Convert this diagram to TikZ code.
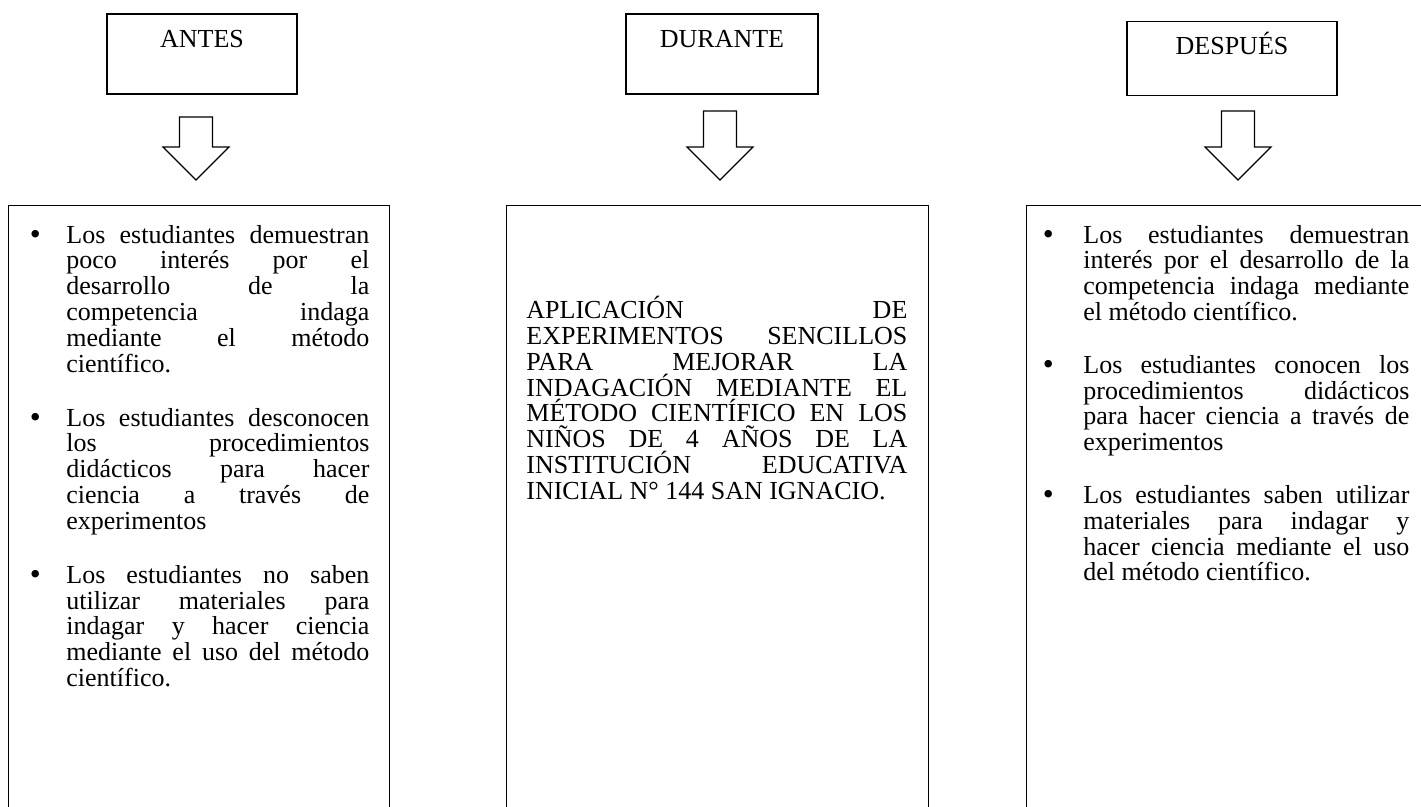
\documentclass[tikz,border=0pt]{standalone}
\usepackage{fontspec}
\setmainfont{Liberation Serif}
\usetikzlibrary{positioning}

\hyphenpenalty=10000
\tolerance=9999
\hbadness=10000

% larger bullet, as in the original
\newcommand{\punto}{\raisebox{-0.65pt}{\fontsize{15.6pt}{15.6pt}\selectfont\textbullet}}

% bullet list: left margin, label sep, item sep
\newenvironment{vinetas}[3]{%
  \begin{list}{\punto}{%
    \setlength{\leftmargin}{#1}%
    \setlength{\labelsep}{#2}%
    \setlength{\labelwidth}{\dimexpr#1-#2\relax}%
    \setlength{\topsep}{0pt}%
    \setlength{\partopsep}{0pt}%
    \setlength{\parsep}{0pt}%
    \setlength{\itemsep}{#3}}}%
  {\end{list}}

\tikzset{
  every node/.style={font=\fontsize{13pt}{12.9pt}\selectfont},
  titulo/.style={draw,line width=0.6pt,inner sep=0pt,anchor=base,
    text height=17pt,text depth=23pt},
  caja/.style={draw,line width=0.6pt,inner sep=0pt,anchor=north west,
    minimum height=315pt},
  texto/.style={inner sep=0pt,anchor=north west,align=justify},
  flecha/.style={line width=0.6pt,line join=miter}
}

\begin{document}
\begin{tikzpicture}[x=0.5pt,y=-0.5pt]
    \useasboundingbox (0,0) rectangle (1421,807);
    \clip (0,0) rectangle (1421,807);

    % Title boxes
    \node[titulo,minimum width=95pt] (antes) at (202,48) {ANTES};
    \node[titulo,minimum width=96pt] (durante) at (722,48) {DURANTE};
    \node[titulo,minimum width=105pt,text height=16.75pt,text depth=20.35pt] (despues) at (1232,55) {DESPUÉS};

    % Hollow arrows under the titles
    \coordinate (flechaAntes) at (196,117);
    \coordinate (flechaDurante) at (720,111);
    \coordinate (flechaDespues) at (1238,111);
    \draw[flecha] (flechaAntes) ++(-16.5,0) -- ++(33,0) -- ++(0,30) -- ++(16.5,0)
        -- ++(-33,33) -- ++(-33,-33) -- ++(16.5,0) -- cycle;
    \draw[flecha] (flechaDurante) ++(-16.5,0) -- ++(33,0) -- ++(0,36) -- ++(16.5,0)
        -- ++(-33,33) -- ++(-33,-33) -- ++(16.5,0) -- cycle;
    \draw[flecha] (flechaDespues) ++(-16.5,0) -- ++(33,0) -- ++(0,36) -- ++(16.5,0)
        -- ++(-33,33) -- ++(-33,-33) -- ++(16.5,0) -- cycle;

    % Content boxes
    \node[caja,minimum width=190.5pt] (cajaAntes) at (8,205) {};
    \node[caja,minimum width=211pt] (cajaDurante) at (506,205) {};
    \node[caja,minimum width=215pt] (cajaDespues) at (1026,205) {};

    % Before
    \node[texto,text width=174.5pt] (textoAntes) at (20,217) {%
      \begin{vinetas}{23pt}{12.8pt}{14.1pt}
      \item Los estudiantes demuestran\linebreak poco interés por el\linebreak
        desarrollo de la\linebreak competencia indaga\linebreak
        mediante el método\linebreak científico.
      \item Los estudiantes desconocen\linebreak los procedimientos\linebreak
        didácticos para hacer\linebreak ciencia a través de\linebreak experimentos
      \item Los estudiantes no saben\linebreak utilizar materiales para\linebreak
        indagar y hacer ciencia\linebreak mediante el uso del método\linebreak
        científico.
      \end{vinetas}};

    % During
    \node[texto,text width=190.5pt] (textoDurante) at (526,296) {%
      APLICACIÓN DE\linebreak EXPERIMENTOS SENCILLOS\linebreak
      PARA MEJORAR LA\linebreak INDAGACIÓN MEDIANTE EL\linebreak
      MÉTODO CIENTÍFICO EN LOS\linebreak NIÑOS DE 4 AÑOS DE LA\linebreak
      INSTITUCIÓN EDUCATIVA\linebreak INICIAL N° 144 SAN IGNACIO.};

    % After
    \node[texto,text width=187pt] (textoDespues) at (1035,217) {%
      \begin{vinetas}{24pt}{14.8pt}{13.5pt}
      \item Los estudiantes demuestran\linebreak interés por el desarrollo de la\linebreak
        competencia indaga mediante\linebreak el método científico.
      \item Los estudiantes conocen los\linebreak procedimientos didácticos\linebreak
        para hacer ciencia a través de\linebreak experimentos
      \item Los estudiantes saben utilizar\linebreak materiales para indagar y\linebreak
        hacer ciencia mediante el uso\linebreak del método científico.
      \end{vinetas}};

\end{tikzpicture}
\end{document}
